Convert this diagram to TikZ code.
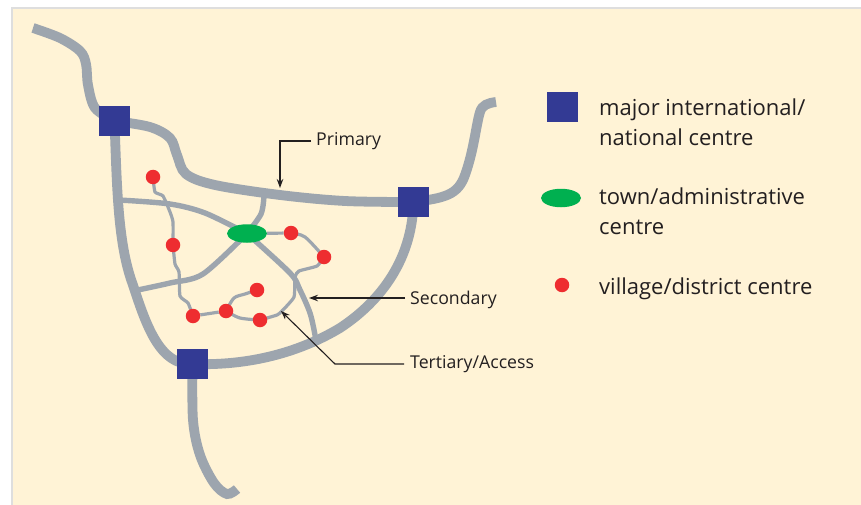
\documentclass[tikz,border=0pt]{standalone}
\usepackage{fontspec}
\setmainfont{Open Sans}
\usetikzlibrary{arrows.meta,backgrounds,shapes.geometric}
\definecolor{paper}{HTML}{FFF3D6}
\definecolor{edgegrey}{HTML}{DEDEDE}
\definecolor{roadgrey}{HTML}{9DA5AE}
\definecolor{hubblue}{HTML}{333A94}
\definecolor{towngreen}{HTML}{00B050}
\definecolor{villred}{HTML}{EE2D30}
\definecolor{inkgrey}{HTML}{231F20}
\tikzset{
  hub/.style={draw=none,fill=hubblue,minimum width=31pt,minimum height=30.5pt,inner sep=0pt},
  town/.style={ellipse,draw=none,fill=towngreen,minimum width=40pt,minimum height=18.5pt,inner sep=0pt},
  village/.style={circle,draw=none,fill=villred,minimum size=14.5pt,inner sep=0pt},
  primary/.style={draw=roadgrey,line width=9.8pt},
  secondary/.style={draw=roadgrey,line width=5.4pt},
  tertiary/.style={draw=roadgrey,line width=3.2pt},
  legendtext/.style={anchor=west,inner sep=0pt,text=inkgrey,font=\fontsize{22}{29.5}\selectfont,align=left},
  calltext/.style={anchor=west,inner sep=0pt,text=inkgrey,font=\fontsize{17.7}{20}\selectfont},
  callout/.style={draw=inkgrey,line width=1.1pt,-{Stealth[length=9pt,width=6.5pt]}}
}
\begin{document}
\begin{tikzpicture}[x=1pt,y=-1pt]
  \useasboundingbox (0,0) rectangle (861,505);
  % centres
  \node[hub] (hubNW) at (114.5,121) {};
  \node[hub] (hubE) at (413.5,202) {};
  \node[hub] (hubS) at (192.5,364) {};
  \node[town] (townC) at (247,233.5) {};
  \node[village] (villA) at (153,177) {};
  \node[village] (villB) at (173,245) {};
  \node[village] (villC) at (193,316) {};
  \node[village] (villD) at (226,311) {};
  \node[village] (villE) at (257,290) {};
  \node[village] (villF) at (260,320) {};
  \node[village] (villG) at (291,233) {};
  \node[village] (villH) at (324,257) {};
  % road ends
  \coordinate (endNW) at (33,28);
  \coordinate (endNE) at (496,102);
  \coordinate (endS) at (237,489);
  \coordinate (joinW) at (119,200);
  \coordinate (joinSW) at (133,291);
  \coordinate (joinN) at (264,196);
  \coordinate (joinSE) at (316,345);
  % callouts
  \node[calltext] (labPrimary) at (316,141.5) {Primary};
  \node[calltext] (labSecondary) at (410,300) {Secondary};
  \node[calltext] (labTertiary) at (410,364) {Tertiary/Access};
  \coordinate (tipPrimary) at (280,188);
  \coordinate (tipSecondary) at (309,298);
  \coordinate (tipTertiary) at (281,311);
  \coordinate (bendTertiary) at (335,364);
  \draw[callout] (311,141) -| (tipPrimary);
  \draw[callout] (405,298) -- (tipSecondary);
  \draw[callout] (404,364) -- (bendTertiary) -- (tipTertiary);
  % legend
  \node[hub] (keyHub) at (562.5,107) {};
  \node[town] (keyTown) at (561,198) {};
  \node[village] (keyVill) at (562,285) {};
  \node[legendtext] (keyHubText) at (599,122.5) {major international/\\national centre};
  \node[legendtext] (keyTownText) at (599,211) {town/administrative\\centre};
  \node[legendtext] (keyVillText) at (599,288.5) {village/district centre};
  \begin{pgfonlayer}{background}
    \fill[edgegrey] (11,7) rectangle (861,505);
    \fill[paper] (13,9) rectangle (861,505);
    % primary roads
    \draw[primary] plot[smooth,tension=0.55] coordinates {(endNW) (60,38) (80,51) (86,64) (88,85) (95,108) (hubNW.center)};
    \draw[primary] plot[smooth,tension=0.55] coordinates {(hubNW.center) (150,127) (170,138) (177,155) (186,174) (215,185) (280,195) (345,201) (hubE.center)};
    \draw[primary] (hubE.center) .. controls (445,198) and (458,195) .. (465,175) .. controls (474,150) and (476,125) .. (480,112) .. controls (482,105) and (488,103) .. (endNE);
    \draw[primary] (hubNW.center) .. controls (117,190) and (118,245) .. (133,285) .. controls (146,325) and (160,366) .. (hubS.center);
    \draw[primary] (hubS.center) .. controls (250,366) and (300,352) .. (340,328) .. controls (375,305) and (412,265) .. (hubE.center);
    \draw[primary] plot[smooth,tension=0.55] coordinates {(hubS.center) (193,420) (200,455) (214,483) (227,494) (endS)};
    % secondary roads
    \draw[secondary] plot[smooth,tension=0.5] coordinates {(joinW) (170,204) (205,213) (townC.center)};
    \draw[secondary] plot[smooth,tension=0.5] coordinates {(joinN) (261,214) (townC.center)};
    \draw[secondary] plot[smooth,tension=0.5] coordinates {(joinSW) (170,283) (203,274) (townC.center)};
    \draw[secondary] plot[smooth,tension=0.5] coordinates {(townC.center) (290,273) (300,290) (310,313) (315,335) (joinSE)};
    % tertiary roads
    \draw[tertiary] plot[smooth,tension=0.3] coordinates {(villA) (155,192) (163,196) (170,212) (173,222) (villB)};
    \draw[tertiary] plot[smooth,tension=0.3] coordinates {(villB) (175,264) (179,272) (180,296) (188,303) (villC)};
    \draw[tertiary] (villC) -- (villD);
    \draw[tertiary] plot[smooth,tension=0.5] coordinates {(villD) (234,298) (245,294) (villE)};
    \draw[tertiary] plot[smooth,tension=0.5] coordinates {(villD) (240,318) (villF)};
    \draw[tertiary] plot[smooth,tension=0.3] coordinates {(villF) (277,315) (282,311) (294,297) (295,277) (299,271) (317,266) (villH)};
    \draw[tertiary] (townC) -- (villG);
    \draw[tertiary] plot[smooth,tension=0.5] coordinates {(villG) (305,237) (villH)};
  \end{pgfonlayer}
\end{tikzpicture}
\end{document}
